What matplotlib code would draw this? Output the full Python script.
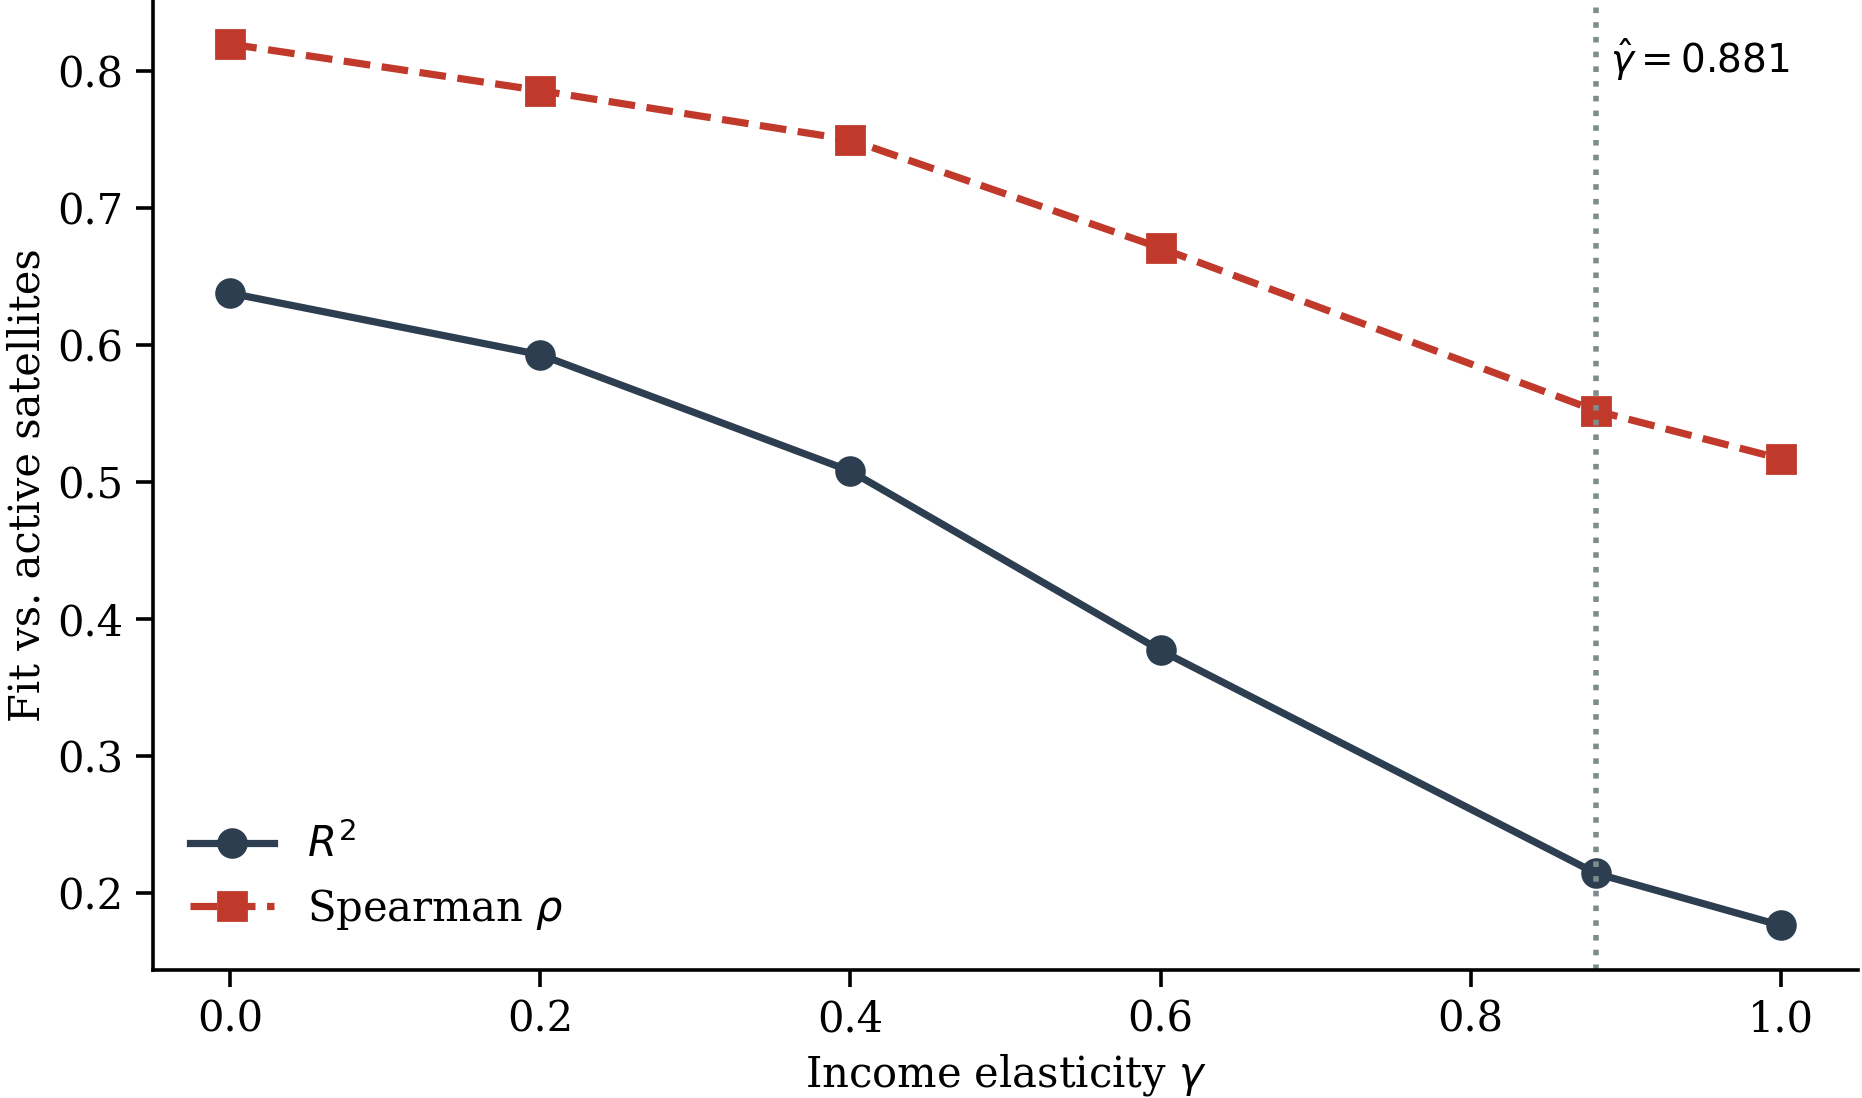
import matplotlib
matplotlib.use("Agg")
import matplotlib.pyplot as plt

# ----------------------------
# Data
# ----------------------------
gamma = [0.0, 0.2, 0.4, 0.6, 0.881, 1.0]
r2 = [0.638, 0.593, 0.508, 0.377, 0.214, 0.176]
spearman = [0.820, 0.786, 0.750, 0.671, 0.552, 0.517]
gamma_hat = 0.881

plt.rcParams['font.family'] = 'DejaVu Serif'
plt.rcParams['mathtext.fontset'] = 'dejavusans'

FS = 15

fig = plt.figure(figsize=(9.31, 5.49), dpi=200)
ax = fig.add_axes([0.082, 0.117, 0.916, 0.883])

ax.plot(gamma, r2, color='#2c3e50', marker='o', lw=2.6, ms=10, label=r'$R^2$')
ax.plot(gamma, spearman, color='#c0392b', marker='s', ls='--', lw=2.6, ms=10,
        label=r'Spearman $\rho$')
ax.axvline(gamma_hat, color='#7f8c8d', ls=':', lw=2.0)
ax.text(gamma_hat + 0.009, 0.809, r'$\hat{\gamma} = 0.881$', fontsize=14,
        va='center', ha='left')

ax.set_xlabel(r'Income elasticity $\gamma$', fontsize=FS, labelpad=4)
ax.set_ylabel('Fit vs. active satellites', fontsize=FS, labelpad=3)
ax.tick_params(labelsize=FS, width=1.3, length=6, pad=4.5)
for s in ['top', 'right']:
    ax.spines[s].set_visible(False)
for s in ['left', 'bottom']:
    ax.spines[s].set_linewidth(1.3)

ax.legend(loc='lower left', frameon=False, fontsize=FS)

fig.savefig('out.png', dpi=200)
